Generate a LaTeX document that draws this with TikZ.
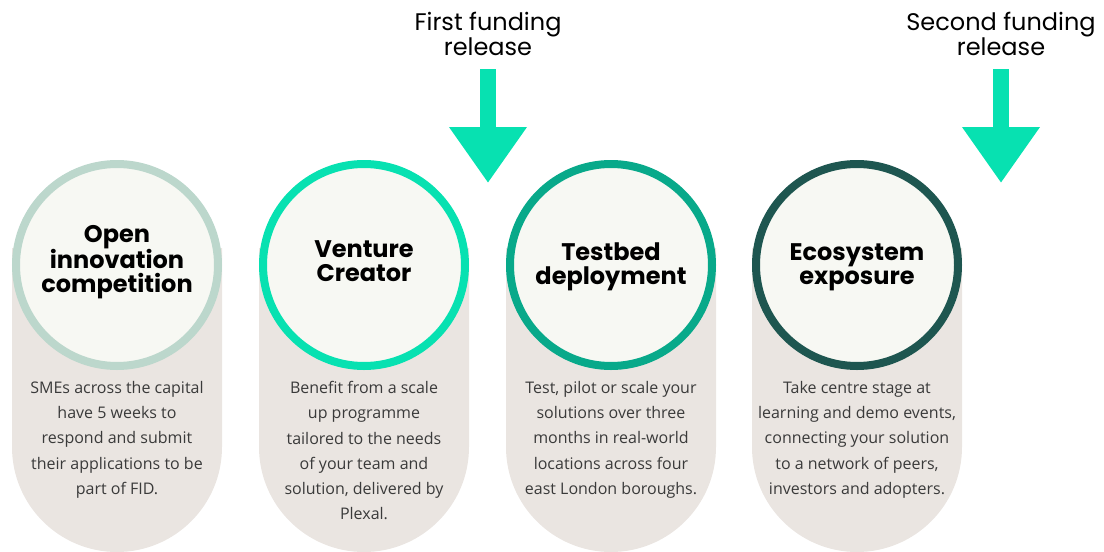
\documentclass[tikz,border=0pt]{standalone}
\usepackage{fontspec}
\setmainfont{Open Sans}
\newfontfamily\popfont{Poppins}
\usetikzlibrary{arrows.meta}
\definecolor{myMint}{HTML}{07E1B1}
\definecolor{mySage}{HTML}{BCD7CC}
\definecolor{myTeal}{HTML}{08A98A}
\definecolor{myDark}{HTML}{1E5650}
\definecolor{myPill}{HTML}{EAE5E1}
\definecolor{myFill}{HTML}{F7F8F3}
\definecolor{myText}{HTML}{3A3A3A}

\begin{document}
\begin{tikzpicture}[%
	x=1pt, y=-1pt,
	stage/.style={
		circle, fill=myFill, line width=8pt,
		minimum size=202pt, inner sep=0pt,
	},
	heading/.style={
		font=\popfont\bfseries\fontsize{24}{24}\selectfont,
		align=center, text=black,
	},
	blurb/.style={
		font=\fontsize{16}{25.3}\selectfont,
		align=center, text=myText, anchor=north, inner sep=0pt,
	},
	release/.style={
		font=\popfont\fontsize{24}{23.5}\selectfont,
		align=center, anchor=north, inner sep=0pt,
	},
	fund/.style={
		draw=myMint, line width=16pt,
		-{Triangle[length=56pt, width=74pt]},
	},
	]
	\useasboundingbox (0,0) rectangle (1104,552);
	
	% draw the pills behind the circles
	\foreach \cx in {117,364,611,857}{
		\fill[myPill] (\cx-105,248) -- (\cx+105,248) -- (\cx+105,447)
			arc[start angle=0, end angle=-180, radius=105pt] -- cycle;
	}
	
	% draw the stage circles
	\node[stage, draw=mySage] (c1) at (117,265) {};
	\node[stage, draw=myMint] (c2) at (364,265) {};
	\node[stage, draw=myTeal] (c3) at (611,265) {};
	\node[stage, draw=myDark] (c4) at (857,265) {};
	
	% place stage headings
	\node[heading] (h1) at ([yshift=3pt]c1) {Open\\innovation\\competition};
	\node[heading] (h2) at ([yshift=4pt]c2) {Venture\\Creator};
	\node[heading] (h3) at ([yshift=-2pt]c3) {Testbed\\deployment};
	\node[heading] (h4) at ([yshift=-2pt]c4) {Ecosystem\\exposure};
	
	% place stage texts
	\node[blurb] (b1) at (117,381) {SMEs across the capital\\have 5 weeks to\\respond and submit\\their applications to be\\part of FID.};
	\node[blurb] (b2) at (364,381) {Benefit from a scale\\up programme\\tailored to the needs\\of your team and\\solution, delivered by\\Plexal.};
	\node[blurb] (b3) at (611,381) {Test, pilot or scale your\\solutions over three\\months in real-world\\locations across four\\east London boroughs.};
	\node[blurb] (b4) at (857,381) {Take centre stage at\\learning and demo events,\\connecting your solution\\to a network of peers,\\investors and adopters.};
	
	% funding releases
	\node[release] (f1) at (488,12) {First funding\\release};
	\node[release] (f2) at (1001,12) {Second funding\\release};
	\coordinate (t1) at (488,183);
	\coordinate (t2) at (1001,183);
	\draw[fund] ([yshift=-13pt]f1.south) -- (t1);
	\draw[fund] ([yshift=-13pt]f2.south) -- (t2);
\end{tikzpicture}
\end{document}
